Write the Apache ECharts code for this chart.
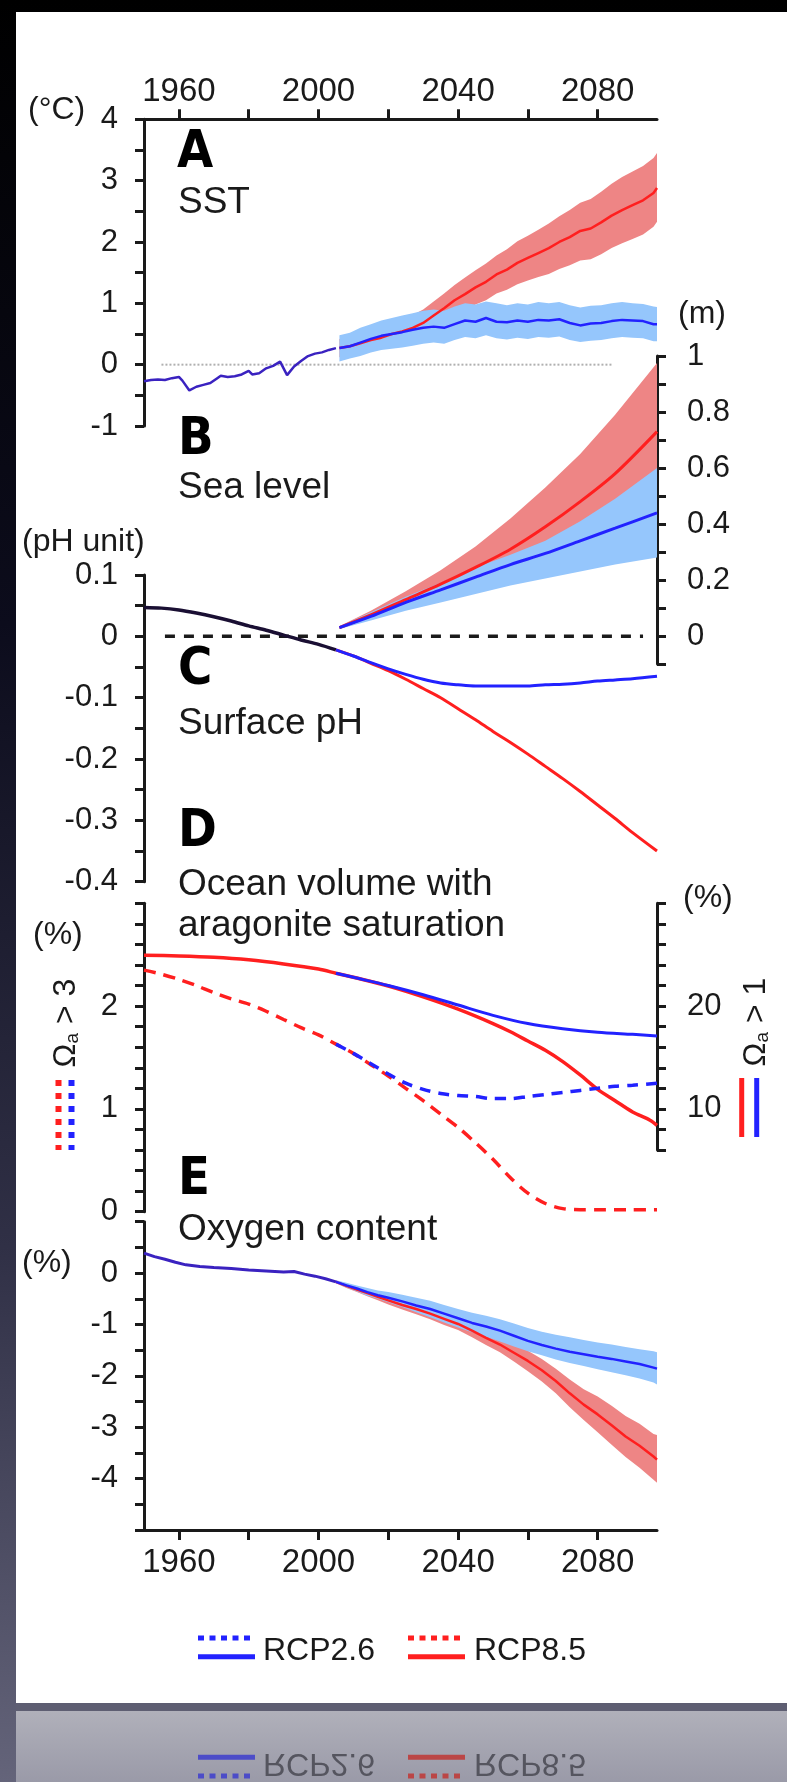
<!DOCTYPE html>
<html>
<head>
<meta charset="utf-8">
<script src="https://cdn.jsdelivr.net/npm/echarts@6/dist/echarts.min.js"></script>
<style>
  html, body { margin: 0; padding: 0; background: #000; }
  #chart { width: 787px; height: 1782px; }
</style>
</head>
<body>
<div id="chart"></div>
<script>
// ---------- Shared year axis ----------
const yearMin = 1950;
const yearMax = 2097;
const yearTicks = [1960, 1980, 2000, 2020, 2040, 2060, 2080];
const yearLabels = [1960, 2000, 2040, 2080];

// ---------- A: sea surface temperature anomaly (°C) ----------
const sstTicks = [-1, -0.5, 0, 0.5, 1, 1.5, 2, 2.5, 3, 3.5, 4];
const sstLabels = [-1, 0, 1, 2, 3, 4];
const sstHistYears = [1950,1952,1954,1956,1958,1960,1961,1963,1965,1967,1969,1971,1972,1974,1976,1978,1980,1981,1983,1985,1987,1989,1991,1993,1995,1997,1999,2001,2003,2005];
const sstHistValues = [-0.27,-0.25,-0.24,-0.25,-0.22,-0.2,-0.26,-0.42,-0.36,-0.33,-0.3,-0.22,-0.18,-0.2,-0.19,-0.16,-0.1,-0.16,-0.14,-0.06,-0.02,0.05,-0.17,-0.03,0.06,0.14,0.18,0.2,0.24,0.27];
const sstFutureYears = [2006,2009,2012,2015,2018,2021,2024,2027,2030,2033,2036,2039,2042,2045,2048,2051,2054,2057,2060,2063,2066,2069,2072,2075,2078,2081,2084,2087,2090,2093,2096,2097];
const sstRcp26Mean = [0.27,0.3,0.36,0.42,0.47,0.5,0.53,0.57,0.6,0.62,0.6,0.66,0.72,0.7,0.76,0.7,0.69,0.72,0.7,0.73,0.72,0.74,0.68,0.64,0.67,0.68,0.71,0.73,0.72,0.71,0.66,0.66];
const sstRcp26High = [0.48,0.52,0.6,0.66,0.72,0.76,0.8,0.84,0.88,0.9,0.88,0.95,1.0,0.98,1.03,1.0,0.97,1.0,0.98,1.02,1.0,1.02,0.97,0.93,0.96,0.97,1.0,1.02,1.0,0.99,0.95,0.94];
const sstRcp26Low = [0.05,0.1,0.14,0.2,0.24,0.26,0.28,0.31,0.34,0.36,0.34,0.4,0.45,0.43,0.48,0.43,0.41,0.44,0.42,0.45,0.44,0.46,0.4,0.37,0.39,0.4,0.43,0.45,0.44,0.43,0.38,0.38];
const sstRcp85Mean = [0.27,0.3,0.35,0.4,0.44,0.5,0.54,0.6,0.68,0.8,0.92,1.05,1.15,1.26,1.35,1.47,1.55,1.66,1.74,1.82,1.9,2.0,2.08,2.18,2.22,2.32,2.43,2.52,2.6,2.68,2.8,2.88];
const sstRcp85High = [0.42,0.47,0.52,0.58,0.63,0.69,0.74,0.81,0.9,1.03,1.16,1.3,1.42,1.54,1.65,1.78,1.88,2.01,2.1,2.2,2.3,2.42,2.52,2.64,2.7,2.82,2.95,3.06,3.15,3.24,3.37,3.45];
const sstRcp85Low = [0.12,0.14,0.18,0.22,0.26,0.31,0.35,0.4,0.46,0.57,0.68,0.8,0.88,0.98,1.05,1.16,1.22,1.31,1.37,1.43,1.48,1.56,1.62,1.7,1.72,1.8,1.9,1.98,2.05,2.12,2.25,2.33];
const sstZeroYears = [1955, 2084];

// ---------- B: sea level rise (m) ----------
const seaTicks = [-0.1, 0, 0.1, 0.2, 0.3, 0.4, 0.5, 0.6, 0.7, 0.8, 0.9, 1];
const seaLabels = [0, 0.2, 0.4, 0.6, 0.8, 1];
const seaYears = [2006,2015,2025,2035,2045,2055,2065,2075,2085,2097];
const seaRcp26Mean = [0.03,0.07,0.12,0.165,0.21,0.255,0.295,0.34,0.385,0.44];
const seaRcp26High = [0.035,0.085,0.14,0.19,0.245,0.29,0.34,0.41,0.49,0.6];
const seaRcp26Low = [0.025,0.055,0.09,0.12,0.15,0.18,0.205,0.23,0.255,0.28];
const seaRcp85Mean = [0.03,0.075,0.13,0.185,0.245,0.31,0.39,0.48,0.58,0.73];
const seaRcp85High = [0.035,0.09,0.16,0.235,0.32,0.42,0.53,0.65,0.79,0.975];
const seaRcp85Low = [0.025,0.06,0.1,0.14,0.18,0.22,0.27,0.33,0.4,0.5];

// ---------- C: surface pH change (pH unit) ----------
const phTicks = [-0.4,-0.35,-0.3,-0.25,-0.2,-0.15,-0.1,-0.05,0,0.05,0.1];
const phLabels = [-0.4,-0.3,-0.2,-0.1,0,0.1];
const phHistYears = [1950,1955,1960,1965,1970,1975,1980,1985,1990,1995,2000,2005];
const phHistValues = [0.047,0.046,0.043,0.038,0.032,0.025,0.017,0.01,0.002,-0.006,-0.013,-0.022];
const phFutureYears = [2005,2010,2015,2020,2025,2030,2035,2040,2045,2050,2055,2060,2065,2070,2075,2080,2085,2090,2097];
const phRcp26 = [-0.022,-0.032,-0.043,-0.053,-0.062,-0.07,-0.076,-0.079,-0.081,-0.081,-0.081,-0.081,-0.079,-0.078,-0.076,-0.073,-0.071,-0.069,-0.065];
const phRcp85 = [-0.022,-0.032,-0.044,-0.056,-0.07,-0.085,-0.1,-0.118,-0.136,-0.155,-0.173,-0.192,-0.212,-0.232,-0.253,-0.275,-0.297,-0.32,-0.35];
const phZeroYears = [1956, 2093];

// ---------- D: ocean volume with aragonite saturation (%) ----------
const arag3Ticks = [0,0.2,0.4,0.6,0.8,1,1.2,1.4,1.6,1.8,2,2.2,2.4,2.6,2.8,3];
const arag3Labels = [0, 1, 2];
const arag1Ticks = [6,8,10,12,14,16,18,20,22,24,26,28,30];
const arag1Labels = [10, 20];
const arag1Years = [1950,1960,1970,1980,1990,2000,2005,2010,2020,2030,2040,2050,2055,2060,2065,2070,2075,2080,2085,2090,2095,2097];
const arag1Rcp85 = [24.95,24.88,24.75,24.5,24.1,23.6,23.2,22.8,21.95,20.9,19.7,18.3,17.5,16.6,15.7,14.6,13.3,11.9,10.8,9.7,8.9,8.4];
const arag1FutureYears = [2005,2010,2020,2030,2040,2050,2060,2070,2080,2090,2097];
const arag1Rcp26 = [23.2,22.8,22.0,21.1,20.1,19.1,18.3,17.8,17.45,17.25,17.1];
const arag3Years = [1950,1955,1960,1965,1970,1975,1980,1985,1990,1995,2000,2005,2010,2015,2020,2025,2030,2035,2040,2045,2050,2055,2060,2065,2070,2075,2080,2085,2090,2097];
const arag3Rcp85 = [2.35,2.31,2.26,2.2,2.13,2.07,2.02,1.95,1.87,1.79,1.72,1.63,1.54,1.43,1.32,1.2,1.08,0.95,0.82,0.67,0.51,0.33,0.18,0.08,0.03,0.02,0.02,0.02,0.02,0.02];
const arag3FutureYears = [2005,2010,2015,2020,2025,2030,2035,2040,2045,2050,2055,2060,2065,2070,2075,2080,2085,2090,2097];
const arag3Rcp26 = [1.63,1.54,1.44,1.34,1.25,1.19,1.15,1.13,1.12,1.1,1.1,1.12,1.14,1.16,1.18,1.2,1.22,1.23,1.25];

// ---------- E: oxygen content change (%) ----------
const oxyTicks = [-5,-4.5,-4,-3.5,-3,-2.5,-2,-1.5,-1,-0.5,0,0.5,1];
const oxyLabels = [-4,-3,-2,-1,0];
const oxyHistYears = [1950,1953,1956,1959,1962,1966,1970,1975,1980,1985,1990,1993,1996,1999,2002,2005];
const oxyHistValues = [0.39,0.32,0.27,0.21,0.16,0.13,0.11,0.09,0.06,0.04,0.02,0.03,-0.02,-0.06,-0.11,-0.17];
const oxyFutureYears = [2005,2008,2011,2014,2017,2020,2024,2028,2032,2036,2040,2044,2048,2052,2056,2060,2064,2068,2072,2076,2080,2084,2088,2092,2096,2097];
const oxyRcp26Mean = [-0.17,-0.24,-0.3,-0.37,-0.43,-0.48,-0.55,-0.63,-0.7,-0.79,-0.88,-0.97,-1.04,-1.12,-1.22,-1.32,-1.4,-1.47,-1.53,-1.58,-1.63,-1.67,-1.72,-1.77,-1.84,-1.86];
const oxyRcp26High = [-0.14,-0.19,-0.24,-0.29,-0.34,-0.37,-0.42,-0.48,-0.54,-0.62,-0.7,-0.77,-0.83,-0.9,-0.98,-1.07,-1.14,-1.2,-1.25,-1.3,-1.35,-1.39,-1.44,-1.48,-1.52,-1.54];
const oxyRcp26Low = [-0.2,-0.28,-0.36,-0.44,-0.5,-0.57,-0.66,-0.76,-0.86,-0.96,-1.06,-1.15,-1.24,-1.33,-1.43,-1.52,-1.6,-1.68,-1.75,-1.81,-1.87,-1.93,-1.99,-2.05,-2.13,-2.17];
const oxyRcp85Mean = [-0.17,-0.25,-0.32,-0.39,-0.46,-0.53,-0.62,-0.7,-0.79,-0.89,-0.99,-1.12,-1.26,-1.39,-1.55,-1.71,-1.89,-2.1,-2.34,-2.56,-2.75,-2.96,-3.18,-3.36,-3.57,-3.63];
const oxyRcp85High = [-0.14,-0.21,-0.27,-0.33,-0.39,-0.45,-0.53,-0.6,-0.68,-0.77,-0.87,-0.99,-1.12,-1.24,-1.38,-1.51,-1.67,-1.86,-2.07,-2.26,-2.4,-2.58,-2.78,-2.93,-3.13,-3.15];
const oxyRcp85Low = [-0.2,-0.29,-0.37,-0.45,-0.53,-0.61,-0.71,-0.8,-0.9,-1.01,-1.11,-1.25,-1.4,-1.54,-1.72,-1.91,-2.11,-2.34,-2.61,-2.86,-3.1,-3.34,-3.58,-3.79,-4.02,-4.08];

// ---------- Styling ----------
const INK = '#1a1a1a';
const FONT = "'Liberation Sans', Arial, sans-serif";
const HEAVY = "'Liberation Sans Narrow', 'DejaVu Sans Condensed', 'Liberation Sans', sans-serif";
const RED = '#ff1f1f';
const BLUE = '#2222ff';
const HIST = '#3a22c0';
const HIST_PH = '#1a0f33';
const RED_BAND = '#ee8585';
const BLUE_BAND = '#95c6fc';

const pairs = (xs, ys) => xs.map((x, i) => [x, ys[i]]);

function yearAxis(gridIndex, position, visible) {
  return {
    type: 'value', gridIndex, min: yearMin, max: yearMax, position,
    show: visible,
    axisLine: { show: true, onZero: false, lineStyle: { color: INK, width: 3 } },
    axisTick: { show: true, inside: false, length: 10, customValues: yearTicks,
                lineStyle: { color: INK, width: 3 } },
    axisLabel: { show: true, customValues: yearLabels, margin: position === 'top' ? 11 : 16,
                 fontSize: 33, fontFamily: FONT, color: INK, formatter: v => String(v) },
    splitLine: { show: false }
  };
}

function valueAxis(gridIndex, position, min, max, ticks, labels, margin) {
  return {
    type: 'value', gridIndex, min, max, position,
    axisLine: { show: true, onZero: false, lineStyle: { color: INK, width: 3 } },
    axisTick: { show: true, inside: false, length: 9, customValues: ticks,
                lineStyle: { color: INK, width: 3 } },
    axisLabel: { show: true, customValues: labels, margin,
                 fontSize: 31, fontFamily: FONT, color: INK, formatter: v => String(v) },
    splitLine: { show: false }
  };
}

function lineSeries(name, xi, yi, xs, ys, color, width, opts) {
  return Object.assign({
    type: 'line', name, xAxisIndex: xi, yAxisIndex: yi,
    data: pairs(xs, ys), symbol: 'none', silent: true,
    lineStyle: { color, width }, z: 3
  }, opts || {});
}

// Uncertainty band drawn as one polygon through the axes' own coordinate mapping
function bandSeries(name, xi, yi, xs, lo, hi, color) {
  const rows = xs.map((x, i) => [x, lo[i], hi[i]]);
  return {
    type: 'custom', name, xAxisIndex: xi, yAxisIndex: yi, silent: true, z: 2,
    data: rows,
    encode: { x: 0, y: [1, 2] },
    renderItem(params, api) {
      if (params.dataIndex !== 0) return null;
      const upper = rows.map(r => api.coord([r[0], r[2]]));
      const lower = rows.map(r => api.coord([r[0], r[1]])).reverse();
      return { type: 'polygon', shape: { points: upper.concat(lower) }, style: { fill: color } };
    }
  };
}

// grid 3 carries the Ωa>3 scale; grid 5 (shorter) carries the Ωa>1 scale of panel D
const grids = [
  { left: 144, top: 119.3, width: 513, height: 306.7 },
  { left: 144, top: 356, width: 513, height: 308 },
  { left: 144, top: 575, width: 513, height: 306.7 },
  { left: 144, top: 903.3, width: 513, height: 308.4 },
  { left: 144, top: 1221.7, width: 513, height: 308.3 },
  { left: 144, top: 903.3, width: 513, height: 246.7 }
].map(g => Object.assign({ containLabel: false, outerBoundsMode: 'none' }, g));

const xAxes = [
  yearAxis(0, 'top', true),
  yearAxis(1, 'bottom', false),
  yearAxis(2, 'bottom', false),
  yearAxis(3, 'bottom', false),
  yearAxis(4, 'bottom', true),
  yearAxis(5, 'bottom', false)
];

const yAxes = [
  valueAxis(0, 'left', -1, 4, sstTicks, sstLabels, 26),
  valueAxis(1, 'right', -0.1, 1, seaTicks, seaLabels, 30),
  valueAxis(2, 'left', -0.4, 0.1, phTicks, phLabels, 26),
  valueAxis(3, 'left', 0, 3, arag3Ticks, arag3Labels, 26),
  valueAxis(5, 'right', 6, 30, arag1Ticks, arag1Labels, 30),
  valueAxis(4, 'left', -5, 1, oxyTicks, oxyLabels, 26)
];

const series = [
  // A
  lineSeries('SST zero', 0, 0, sstZeroYears, [0, 0], '#b0b0b0', 2, { lineStyle: { color: '#b0b0b0', width: 2, type: [2, 2] }, z: 1 }),
  bandSeries('SST RCP8.5 range', 0, 0, sstFutureYears, sstRcp85Low, sstRcp85High, RED_BAND),
  bandSeries('SST RCP2.6 range', 0, 0, sstFutureYears, sstRcp26Low, sstRcp26High, BLUE_BAND),
  lineSeries('SST historical', 0, 0, sstHistYears, sstHistValues, HIST, 2.5),
  lineSeries('SST RCP8.5', 0, 0, sstFutureYears, sstRcp85Mean, RED, 2.5),
  lineSeries('SST RCP2.6', 0, 0, sstFutureYears, sstRcp26Mean, BLUE, 2.5),
  // B
  bandSeries('Sea level RCP8.5 range', 1, 1, seaYears, seaRcp85Low, seaRcp85High, RED_BAND),
  bandSeries('Sea level RCP2.6 range', 1, 1, seaYears, seaRcp26Low, seaRcp26High, BLUE_BAND),
  lineSeries('Sea level RCP8.5', 1, 1, seaYears, seaRcp85Mean, RED, 3, { smooth: 0.3 }),
  lineSeries('Sea level RCP2.6', 1, 1, seaYears, seaRcp26Mean, BLUE, 3, { smooth: 0.3 }),
  // C
  lineSeries('pH zero', 2, 2, phZeroYears, [0, 0], INK, 3.5, { lineStyle: { color: INK, width: 3.5, type: [10, 9] }, z: 1 }),
  lineSeries('pH historical', 2, 2, phHistYears, phHistValues, HIST_PH, 3.5, { smooth: 0.3 }),
  lineSeries('pH RCP8.5', 2, 2, phFutureYears, phRcp85, RED, 3, { smooth: 0.3 }),
  lineSeries('pH RCP2.6', 2, 2, phFutureYears, phRcp26, BLUE, 3, { smooth: 0.3 }),
  // D
  lineSeries('Aragonite >1 RCP8.5', 5, 4, arag1Years, arag1Rcp85, RED, 3.5, { smooth: 0.3 }),
  lineSeries('Aragonite >3 RCP8.5', 3, 3, arag3Years, arag3Rcp85, RED, 3.5, { smooth: 0.3, lineStyle: { color: RED, width: 3.5, type: [12, 8] } }),
  lineSeries('Aragonite >1 RCP2.6', 5, 4, arag1FutureYears, arag1Rcp26, BLUE, 3, { smooth: 0.3 }),
  lineSeries('Aragonite >3 RCP2.6', 3, 3, arag3FutureYears, arag3Rcp26, BLUE, 3.5, { smooth: 0.3, lineStyle: { color: BLUE, width: 3.5, type: [11, 8] } }),
  // E
  bandSeries('Oxygen RCP8.5 range', 4, 5, oxyFutureYears, oxyRcp85Low, oxyRcp85High, RED_BAND),
  bandSeries('Oxygen RCP2.6 range', 4, 5, oxyFutureYears, oxyRcp26Low, oxyRcp26High, BLUE_BAND),
  lineSeries('Oxygen historical', 4, 5, oxyHistYears, oxyHistValues, HIST, 3),
  lineSeries('Oxygen RCP8.5', 4, 5, oxyFutureYears, oxyRcp85Mean, RED, 2.5),
  lineSeries('Oxygen RCP2.6', 4, 5, oxyFutureYears, oxyRcp26Mean, BLUE, 2.5)
];

// ---------- Annotations, legend and page frame ----------
function txt(text, x, y, size, opts) {
  return Object.assign({
    type: 'text', x, y, z: 20, silent: true,
    style: Object.assign({ text, fill: INK, fontSize: size, fontFamily: FONT,
                           textAlign: 'left', textVerticalAlign: 'middle' }, (opts && opts.style) || {})
  }, opts && opts.rotation ? { rotation: opts.rotation } : {});
}
function letter(text, x, y) {
  return txt(text, x, y, 52, { style: { fontFamily: HEAVY, fontWeight: 'bold', fill: '#000' } });
}
function seg(x1, y1, x2, y2, color, width, dash) {
  return { type: 'line', z: 20, silent: true, shape: { x1, y1, x2, y2 },
           style: { stroke: color, lineWidth: width, lineDash: dash || null } };
}
function omegaLabel(suffix, x, y) {
  return {
    type: 'text', x, y, rotation: Math.PI / 2, z: 20, silent: true,
    style: {
      text: '{o|Ω}{s|a}{o| > ' + suffix + '}',
      textAlign: 'center', textVerticalAlign: 'middle',
      rich: {
        o: { fontSize: 32, fontFamily: FONT, fill: INK, lineHeight: 38, verticalAlign: 'bottom' },
        s: { fontSize: 19, fontFamily: FONT, fill: INK, lineHeight: 30, verticalAlign: 'bottom' }
      }
    }
  };
}
function legendItems(c) {
  return [
    seg(198, 1638, 255, 1638, c.blue, 5, [6, 5.5]),
    seg(198, 1656.7, 255, 1656.7, c.blue, 5),
    txt('RCP2.6', 263, 1651, 32, { style: { fill: c.text } }),
    seg(408, 1638, 465, 1638, c.red, 5, [6, 5.5]),
    seg(408, 1656.7, 465, 1656.7, c.red, 5),
    txt('RCP8.5', 474, 1651, 32, { style: { fill: c.text } })
  ];
}

const graphic = [
  { type: 'rect', z: -10, silent: true, shape: { x: 0, y: 0, width: 787, height: 1782 },
    style: { fill: { type: 'linear', x: 0, y: 0, x2: 0, y2: 1,
      colorStops: [{ offset: 0, color: '#000000' }, { offset: 0.35, color: '#0c0c1c' },
                   { offset: 0.7, color: '#303046' }, { offset: 1, color: '#64647a' }] } } },
  { type: 'rect', z: -9, silent: true, shape: { x: 16, y: 12, width: 771, height: 1691 }, style: { fill: '#ffffff' } },
  { type: 'rect', z: -9, silent: true, shape: { x: 16, y: 1703, width: 771, height: 8 }, style: { fill: '#5e5e72' } },
  { type: 'rect', z: -9, silent: true, shape: { x: 16, y: 1711, width: 771, height: 71 },
    style: { fill: { type: 'linear', x: 0, y: 0, x2: 0, y2: 1,
      colorStops: [{ offset: 0, color: '#b0b0ba' }, { offset: 1, color: '#9a9aa8' }] } } },

  // panel letters and titles
  letter('A', 177, 153), txt('SST', 178, 203, 37),
  letter('B', 178, 440), txt('Sea level', 178, 488, 37),
  letter('C', 178, 670), txt('Surface pH', 178, 724, 37),
  letter('D', 178, 832), txt('Ocean volume with', 178, 885, 37), txt('aragonite saturation', 178, 926, 37),
  letter('E', 178, 1180), txt('Oxygen content', 178, 1230, 37),

  // units
  txt('(°C)', 28, 110, 32),
  txt('(m)', 678, 314, 32),
  txt('(pH unit)', 22, 542, 32),
  txt('(%)', 33, 935, 32),
  txt('(%)', 683, 898, 32),
  txt('(%)', 22, 1263, 32),

  // aragonite saturation keys
  omegaLabel('3', 63, 1023),
  seg(58.5, 1080, 58.5, 1150, RED, 6, [6, 7]),
  seg(71.5, 1080, 71.5, 1150, BLUE, 6, [6, 7]),
  omegaLabel('1', 753, 1022),
  seg(741.7, 1078, 741.7, 1137, RED, 5),
  seg(756.7, 1078, 756.7, 1137, BLUE, 5),

  // legend
  ...legendItems({ blue: BLUE, red: RED, text: INK }),

  // mirrored legend on the grey strip
  { type: 'group', y: 3414, scaleY: -1, silent: true,
    children: legendItems({ blue: '#4c4cc8', red: '#bb4646', text: '#55555f' }) }
];

const chart = echarts.init(document.getElementById('chart'), null, { renderer: 'canvas' });
chart.setOption({
  animation: false,
  backgroundColor: 'transparent',
  grid: grids,
  xAxis: xAxes,
  yAxis: yAxes,
  series,
  graphic
});
</script>
</body>
</html>
